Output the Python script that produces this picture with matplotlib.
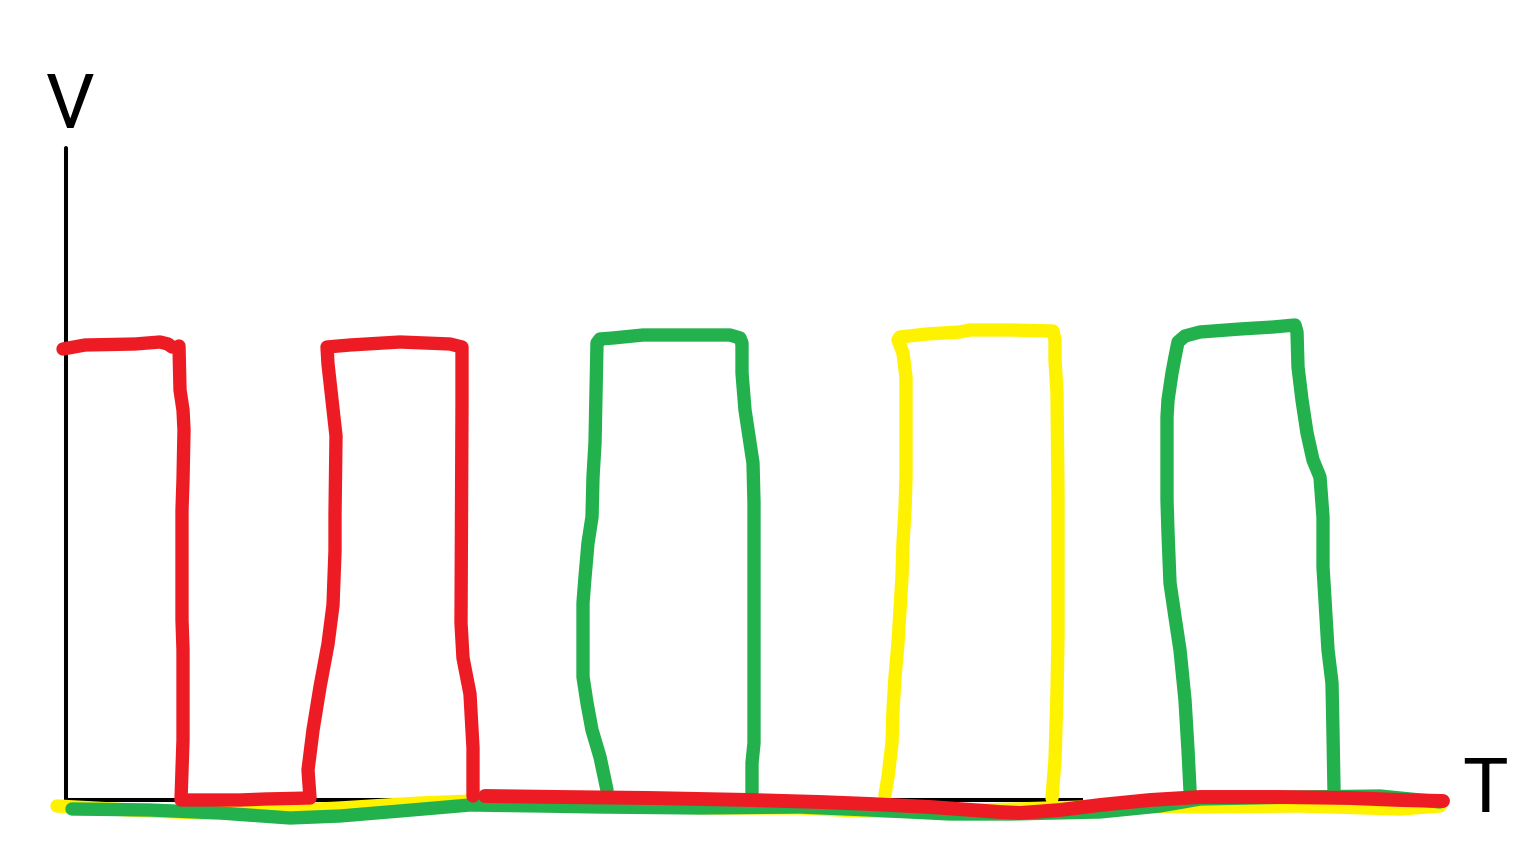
import matplotlib
matplotlib.use('Agg')
import matplotlib.pyplot as plt
from matplotlib import font_manager

# hand drawn V-T sketch, units: t to the right of the V axis, v up from the T axis
RED = '#ed1c24'
GREEN = '#22b14c'
YELLOW = '#fff200'

# red: top of first pulse
red_top_t = [-3, 19, 69, 94, 102, 106]
red_top_v = [451, 455, 456, 458, 456, 453]

# red: fall of pulse 1, low, pulse 2
red_pulse_t = [113, 114, 117, 118, 117, 116, 116, 117, 117, 116, 115, 174, 199, 244,
               242, 247, 254, 262, 267, 269, 269, 270, 266, 262, 261, 284, 334, 384,
               396, 396, 395, 397, 404, 407, 407]
red_pulse_v = [454, 410, 390, 370, 320, 290, 180, 150, 60, 30, 0, 0, 1, 2,
               30, 70, 113, 156, 195, 249, 285, 364, 400, 436, 453, 455, 458, 456,
               453, 396, 177, 142, 106, 52, 4]

# red: low after pulse 2
red_low_t = [419, 494, 584, 684, 754, 804, 864, 934, 954, 994, 1034, 1084, 1134, 1214,
             1284, 1334, 1377]
red_low_v = [4, 3, 2, 0, -2, -4, -7, -12, -13, -10, -5, 0, 3, 3, 2, 0, -1]

# green: pulse 3
green_p3_t = [541, 534, 526, 521, 517, 517, 517, 519, 522, 526, 527, 529, 530, 531, 534,
              547, 577, 627, 664, 674, 676, 676, 679, 684, 687, 688, 688, 688, 686, 686]
green_p3_v = [10, 43, 70, 97, 123, 157, 197, 223, 257, 283, 323, 357, 407, 457, 461,
              462, 465, 465, 465, 462, 457, 427, 390, 357, 337, 297, 157, 57, 37, 7]

# green: pulse 5
green_p5_t = [1124, 1122, 1119, 1114, 1109, 1104, 1102, 1101, 1101, 1102, 1106, 1109, 1112,
              1119, 1134, 1174, 1207, 1229, 1231, 1232, 1236, 1241, 1247, 1254, 1257, 1257,
              1259, 1262, 1266, 1267, 1268]
green_p5_v = [10, 50, 100, 150, 183, 217, 267, 300, 383, 400, 427, 443, 458,
              464, 468, 471, 473, 475, 468, 433, 400, 367, 340, 323, 283, 233,
              200, 150, 117, 67, 10]

# green: low line
green_low_t = [6, 84, 154, 224, 274, 334, 404, 474, 534, 634, 734, 804, 884, 944, 1034,
               1094, 1134, 1234, 1314, 1374]
green_low_v = [-9, -10, -13, -18, -16, -11, -5, -6, -7, -8, -7, -10, -14, -14, -12,
               -6, 1, 3, 4, -2]

# yellow: pulse 4
yellow_p4_t = [819, 822, 826, 827, 829, 832, 834, 836, 837, 839, 840, 840, 840, 837, 832,
               834, 861, 894, 904, 944, 987, 989, 989, 991, 992, 992, 991, 989, 986]
yellow_p4_v = [5, 23, 57, 90, 123, 157, 190, 223, 257, 290, 323, 390, 423, 447, 460,
               463, 466, 468, 470, 470, 469, 460, 440, 407, 307, 163, 107, 40, 2]

# yellow: low line
yellow_low_t = [-9, 64, 134, 214, 274, 354, 434, 534, 654, 734, 794, 884, 984, 1054, 1134,
                1234, 1334, 1374]
yellow_low_v = [-6, -10, -13, -11, -8, -3, 0, -6, -8, -8, -11, -11, -8, -6, -7,
                -6, -9, -6]

axis_v_top = 652
axis_t_end = 1017

# narrow font for the axis letters, if one is there
names = {f.name for f in font_manager.fontManager.ttflist}
narrow = [n for n in ['Liberation Sans Narrow', 'Roboto', 'Lato', 'Open Sans'] if n in names]
letter_font = narrow[:1] + ['DejaVu Sans']

fig = plt.figure(figsize=(15.36, 8.64), dpi=100)
ax = fig.add_axes([0, 0, 1, 1])
ax.set_xlim(-66, 1470)
ax.set_ylim(-64, 800)
ax.axis('off')

# axes
ax.plot([0, 0], [0, axis_v_top], color='black', lw=2.9, solid_capstyle='round')
ax.plot([0, axis_t_end], [0, 0], color='black', lw=2.9, solid_capstyle='butt')

lw = 9.6
kw = dict(solid_capstyle='round', solid_joinstyle='round')
ax.plot(yellow_low_t, yellow_low_v, color=YELLOW, lw=lw, **kw)
ax.plot(green_low_t, green_low_v, color=GREEN, lw=lw, **kw)
ax.plot(green_p3_t, green_p3_v, color=GREEN, lw=lw, **kw)
ax.plot(green_p5_t, green_p5_v, color=GREEN, lw=lw, **kw)
ax.plot(yellow_p4_t, yellow_p4_v, color=YELLOW, lw=lw, **kw)
ax.plot(red_top_t, red_top_v, color=RED, lw=lw, **kw)
ax.plot(red_pulse_t, red_pulse_v, color=RED, lw=lw, **kw)
ax.plot(red_low_t, red_low_v, color=RED, lw=10, **kw)

# axis names
ax.text(4, 672, 'V', fontsize=55, ha='center', va='baseline', family=letter_font)
ax.text(1419, -12, 'T', fontsize=55, ha='center', va='baseline', family=letter_font)

fig.savefig('out.png', dpi=100)
